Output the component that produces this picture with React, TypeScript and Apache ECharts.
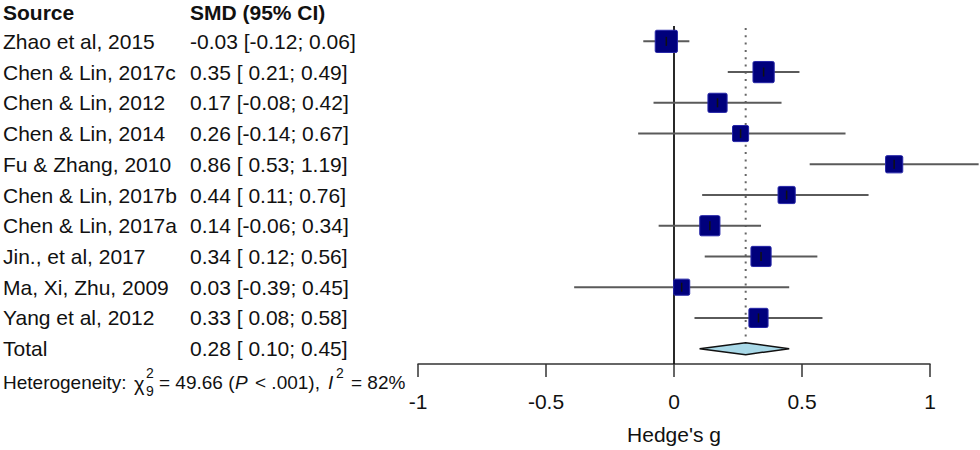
import React, { useEffect, useRef } from "react";
import * as echarts from "echarts";

// ---------- data ----------
const studyNames = [
  "Zhao et al, 2015",
  "Chen & Lin, 2017c",
  "Chen & Lin, 2012",
  "Chen & Lin, 2014",
  "Fu & Zhang, 2010",
  "Chen & Lin, 2017b",
  "Chen & Lin, 2017a",
  "Jin., et al, 2017",
  "Ma, Xi, Zhu, 2009",
  "Yang et al, 2012",
];
const smd = [-0.03, 0.35, 0.17, 0.26, 0.86, 0.44, 0.14, 0.34, 0.03, 0.33];
const ciLower = [-0.12, 0.21, -0.08, -0.14, 0.53, 0.11, -0.06, 0.12, -0.39, 0.08];
const ciUpper = [0.06, 0.49, 0.42, 0.67, 1.19, 0.76, 0.34, 0.56, 0.45, 0.58];
const weights = [13.7, 12.5, 10.2, 7.2, 8.2, 8.2, 11.3, 11.3, 7.2, 10.2];

const totalLabel = "Total";
const totalSmd = 0.28;
const totalLower = 0.1;
const totalUpper = 0.45;

const headerSource = "Source";
const headerSmd = "SMD (95% CI)";
const xAxisTitle = "Hedge's g";
const xMin = -1;
const xMax = 1;
const xInterval = 0.5;

// ---------- helpers ----------
const FONT = '"Liberation Sans", Arial, Helvetica, sans-serif';
const f2 = (v: number) => v.toFixed(2);
const lowFmt = (v: number) => (v < 0 ? "" : " ") + f2(v);
const ciText = (e: number, lo: number, hi: number) =>
  `${f2(e)} [${lowFmt(lo)}; ${f2(hi)}]`;

const rowCount = studyNames.length + 1;

function txt(x: number, y: number, text: string, font: string, align = "left") {
  return {
    type: "text",
    x,
    y,
    silent: true,
    style: {
      text,
      font,
      fill: "#111",
      textAlign: align,
      align,
      verticalAlign: "middle",
      textVerticalAlign: "middle",
    },
  };
}

export default function App() {
  const ref = useRef<HTMLDivElement>(null);

  useEffect(() => {
    if (!ref.current) return;
    const chart = echarts.init(ref.current, null, { renderer: "svg" });

    const studyData = studyNames.map((_, k) => [k, smd[k], ciLower[k], ciUpper[k], weights[k]]);

    const hetFont = `19px ${FONT}`;
    const hetIt = `italic 19px ${FONT}`;
    const smallFont = `14px ${FONT}`;

    const option: any = {
      animation: false,
      backgroundColor: "#ffffff",
      grid: { left: 418, right: 50, top: 26, bottom: 85, containLabel: false },
      xAxis: {
        type: "value",
        min: xMin,
        max: xMax,
        interval: xInterval,
        name: xAxisTitle,
        nameLocation: "middle",
        nameGap: 60,
        nameTextStyle: { fontSize: 21, color: "#111", fontFamily: FONT },
        axisLine: { show: true, onZero: false, lineStyle: { color: "#333", width: 1.5 } },
        axisTick: { show: true, inside: false, length: 13, lineStyle: { color: "#333", width: 1.5 } },
        axisLabel: { fontSize: 21, color: "#111", fontFamily: FONT, margin: 27 },
        splitLine: { show: false },
      },
      yAxis: {
        type: "value",
        min: -0.5,
        max: rowCount - 0.5,
        inverse: true,
        show: false,
      },
      graphic: [
        txt(3, 12, headerSource, `bold 21px ${FONT}`),
        txt(190, 12, headerSmd, `bold 21px ${FONT}`),
        txt(3, 382, "Heterogeneity:", hetFont),
        txt(134, 384, "χ", `20px ${FONT}`),
        txt(146, 373, "2", smallFont),
        txt(146, 391, "9", smallFont),
        txt(159, 382, "= 49.66 (", hetFont),
        txt(235, 382, "P", hetIt),
        txt(255, 382, "< .001),", hetFont),
        txt(328, 382, "I", hetIt),
        txt(336, 373, "2", smallFont),
        txt(351, 382, "= 82%", hetFont),
      ],
      series: [
        {
          type: "custom",
          name: "reference",
          silent: true,
          clip: false,
          data: [[totalSmd]],
          renderItem: (params: any, api: any) => {
            const top = api.coord([0, -0.5])[1];
            const bottom = api.coord([0, rowCount - 0.5])[1];
            const x0 = api.coord([0, 0])[0];
            const xt = api.coord([api.value(0), 0])[0];
            const dTop = api.coord([0, rowCount - 1])[1] - 8;
            return {
              type: "group",
              children: [
                {
                  type: "line",
                  shape: { x1: x0, y1: top, x2: x0, y2: bottom },
                  style: { stroke: "#111", lineWidth: 1.8 },
                },
                {
                  type: "line",
                  shape: { x1: xt, y1: top + 2, x2: xt, y2: dTop },
                  style: { stroke: "#666", lineWidth: 2, lineDash: [2, 5.3] },
                },
              ],
            };
          },
        },
        {
          type: "custom",
          name: "studies",
          silent: true,
          clip: false,
          data: studyData,
          renderItem: (params: any, api: any) => {
            const i = api.value(0);
            const est = api.value(1);
            const lo = api.value(2);
            const hi = api.value(3);
            const w = api.value(4);
            const [cx, cy] = api.coord([est, i]);
            const xl = api.coord([lo, i])[0];
            const xh = api.coord([hi, i])[0];
            const s = 6 * Math.sqrt(w);
            return {
              type: "group",
              children: [
                {
                  type: "line",
                  shape: { x1: xl, y1: cy, x2: xh, y2: cy },
                  style: { stroke: "#5a5a5a", lineWidth: 2 },
                },
                {
                  type: "rect",
                  shape: { x: cx - s / 2, y: cy - s / 2, width: s, height: s, r: 1.5 },
                  style: { fill: "#00007c", stroke: "#2626a8", lineWidth: 1 },
                },
                {
                  type: "line",
                  shape: { x1: cx, y1: cy - 4.5, x2: cx, y2: cy + 4.5 },
                  style: { stroke: "#111", lineWidth: 1.5 },
                },
                txt(3, cy, studyNames[params.dataIndex], `21px ${FONT}`),
                txt(190, cy, ciText(est, lo, hi), `21px ${FONT}`),
              ],
            };
          },
        },
        {
          type: "custom",
          name: "total",
          silent: true,
          clip: false,
          data: [[rowCount - 1, totalSmd, totalLower, totalUpper]],
          renderItem: (params: any, api: any) => {
            const i = api.value(0);
            const est = api.value(1);
            const lo = api.value(2);
            const hi = api.value(3);
            const [cx, cy] = api.coord([est, i]);
            const xl = api.coord([lo, i])[0];
            const xh = api.coord([hi, i])[0];
            const h = 6;
            return {
              type: "group",
              children: [
                {
                  type: "polygon",
                  shape: {
                    points: [
                      [xl, cy],
                      [cx, cy - h],
                      [xh, cy],
                      [cx, cy + h],
                    ],
                  },
                  style: { fill: "#a9d9e8", stroke: "#111", lineWidth: 1.5 },
                },
                txt(3, cy, totalLabel, `21px ${FONT}`),
                txt(190, cy, ciText(est, lo, hi), `21px ${FONT}`),
              ],
            };
          },
        },
      ],
    };

    chart.setOption(option);
    return () => chart.dispose();
  }, []);

  return (
    <div
      ref={ref}
      style={{ position: "absolute", left: 0, top: 0, width: 980, height: 450, background: "#fff" }}
    />
  );
}
